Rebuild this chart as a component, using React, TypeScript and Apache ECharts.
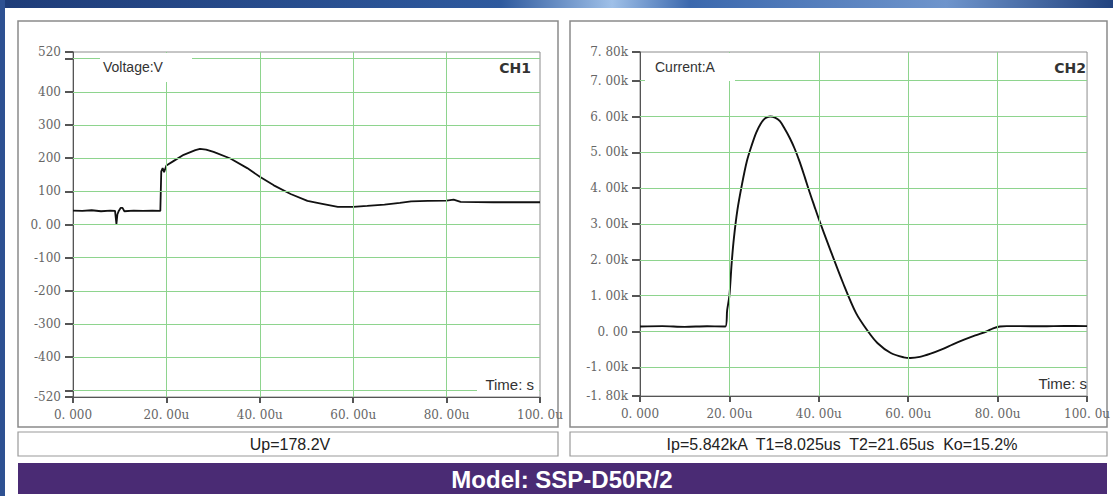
import React, { useEffect, useRef } from "react";
import * as echarts from "echarts";

// ---------- axis ticks / labels ----------
const timeTicks = [0, 20, 40, 60, 80, 100];
const timeTickLabels = ["0. 000", "20. 00u", "40. 00u", "60. 00u", "80. 00u", "100. 0u"];
const gridTimes = [20, 40, 60, 80];

const voltTicks = [-520, -400, -300, -200, -100, 0, 100, 200, 300, 400, 520];
const voltTickLabels = ["-520", "-400", "-300", "-200", "-100", "0. 00", "100", "200", "300", "400", "520"];
const voltTickMarks = [-520, -500, -400, -300, -200, -100, 0, 100, 200, 300, 400, 500, 520];
const voltGrid = [-500, -400, -300, -200, -100, 0, 100, 200, 300, 400, 500];

const currTicks = [-1800, -1000, 0, 1000, 2000, 3000, 4000, 5000, 6000, 7000, 7800];
const currTickLabels = ["-1. 80k", "-1. 00k", "0. 00", "1. 00k", "2. 00k", "3. 00k", "4. 00k", "5. 00k", "6. 00k", "7. 00k", "7. 80k"];
const currGrid = [-1000, 0, 1000, 2000, 3000, 4000, 5000, 6000, 7000];

// ---------- CH1 voltage (time in us, volts) ----------
const voltageTime = [0, 2, 4, 6, 8, 9.0, 9.3, 9.5, 9.8, 10.2, 10.6, 11, 13, 15, 17, 18.7, 18.9, 19.2, 19.5, 20, 21.5, 23.7, 26.2, 27.2, 28.5, 30.1, 33.7, 37.3, 40, 43, 46.6, 50.2, 53.1, 56.7, 60, 63, 66.7, 70, 72.4, 76, 80, 81.5, 83, 90, 100];
const voltageValues = [42, 41, 43, 40, 42, 41, 2, 30, 41, 50, 50, 40, 42, 41, 42, 41, 160, 170, 158, 178, 191, 210, 224, 228, 226, 219, 199, 170, 144, 118, 92, 71, 63, 53, 53, 56, 60, 65, 70, 71, 72, 75, 68, 67, 67];

// ---------- CH2 current (time in us, amperes) ----------
const currentTime = [0, 5, 10, 15, 19.1, 19.5, 20, 20.5, 21.0, 21.8, 22.8, 23.9, 25.0, 26.0, 27.0, 28.0, 29.1, 30.2, 31.3, 32.4, 33.5, 34.6, 35.7, 36.8, 37.9, 39.0, 40, 42.5, 45.4, 48.3, 50.9, 53.1, 56.1, 59, 60.5, 62.6, 65, 67.5, 70, 72.5, 75, 77.5, 79, 80.5, 82, 85, 90, 95, 100];
const currentValues = [140, 150, 130, 145, 140, 600, 1000, 1900, 2600, 3400, 4100, 4750, 5200, 5550, 5800, 5950, 6000, 5970, 5870, 5650, 5400, 5100, 4740, 4330, 3900, 3500, 3140, 2300, 1360, 520, 20, -320, -600, -720, -740, -710, -620, -500, -360, -230, -110, 0, 90, 140, 150, 150, 145, 155, 150];

// ---------- texts ----------
const ch1Name = "CH1";
const ch2Name = "CH2";
const ch1Quantity = "Voltage:V";
const ch2Quantity = "Current:A";
const timeUnit = "Time: s";
const ch1Result = "Up=178.2V";
const ch2Result = "Ip=5.842kA  T1=8.025us  T2=21.65us  Ko=15.2%";
const modelText = "Model: SSP-D50R/2";

const labelFont = "DejaVu Serif";
const gridGreen = "#8ed48e";
const axisGray = "#555";

function lookup(values: number[], labels: string[]) {
  return (v: number) => {
    const i = values.findIndex((x) => Math.abs(x - v) < 1e-6);
    return i >= 0 ? labels[i] : "";
  };
}

function xAxisCfg(gridIndex: number) {
  return {
    type: "value",
    gridIndex,
    min: 0,
    max: 100,
    axisLine: { show: true, onZero: false, lineStyle: { color: axisGray } },
    axisTick: { show: true, customValues: timeTicks, length: 6, lineStyle: { color: "#555", width: 2 } },
    axisLabel: {
      customValues: timeTicks,
      formatter: lookup(timeTicks, timeTickLabels),
      color: "#666",
      fontFamily: labelFont,
      fontSize: 12,
      margin: 12,
    },
    splitLine: { show: false },
  };
}

function yAxisCfg(gridIndex: number, min: number, max: number, ticks: number[], labels: string[], marks: number[]) {
  return {
    type: "value",
    gridIndex,
    min,
    max,
    axisLine: { show: true, onZero: false, lineStyle: { color: axisGray } },
    axisTick: { show: true, customValues: marks, length: 8, lineStyle: { color: "#555", width: 2 } },
    axisLabel: {
      customValues: ticks,
      formatter: lookup(ticks, labels),
      color: "#666",
      fontFamily: labelFont,
      fontSize: 12,
      margin: 12,
    },
    splitLine: { show: false },
  };
}

function gridSeries(idx: number, hValues: number[]) {
  return {
    type: "line",
    xAxisIndex: idx,
    yAxisIndex: idx,
    data: [],
    z: 1,
    silent: true,
    markLine: {
      silent: true,
      symbol: ["none", "none"],
      label: { show: false },
      lineStyle: { color: gridGreen, width: 1, type: "solid" },
      emphasis: { disabled: true },
      data: [
        ...hValues.map((v) => ({ yAxis: v })),
        ...gridTimes.map((t) => ({ xAxis: t })),
      ],
    },
  };
}

function text(x: number, y: number, t: string, font: string, fill: string, align: string, z = 60) {
  return {
    type: "text",
    x,
    y,
    z,
    silent: true,
    style: {
      text: t,
      font,
      fill,
      align,
      verticalAlign: "middle",
      textAlign: align,
      textVerticalAlign: "middle",
    },
  };
}

function rect(x: number, y: number, w: number, h: number, style: any, z: number) {
  return { type: "rect", shape: { x, y, width: w, height: h }, style, z, silent: true };
}

export default function App() {
  const ref = useRef<HTMLDivElement>(null);

  useEffect(() => {
    if (!ref.current) return;
    const chart = echarts.init(ref.current, null, { renderer: "svg" });

    const panelStyle = { fill: "none", stroke: "#8a8a8a", lineWidth: 1.5 };
    const boxStyle = { fill: "none", stroke: "#9a9a9a", lineWidth: 1.2 };
    const white = { fill: "#ffffff" };

    const option: any = {
      animation: false,
      grid: [
        { left: 73, top: 52, width: 467, height: 345, show: true, borderColor: "#8c8c8c" },
        { left: 640, top: 52, width: 451, height: 344, show: true, borderColor: "#8c8c8c" },
      ],
      xAxis: [xAxisCfg(0), xAxisCfg(1)],
      yAxis: [
        yAxisCfg(0, -520, 520, voltTicks, voltTickLabels, voltTickMarks),
        yAxisCfg(1, -1800, 7800, currTicks, currTickLabels, currTicks),
      ],
      series: [
        gridSeries(0, voltGrid),
        gridSeries(1, currGrid),
        {
          type: "line",
          name: ch1Name,
          xAxisIndex: 0,
          yAxisIndex: 0,
          data: voltageTime.map((t, i) => [t, voltageValues[i]]),
          showSymbol: false,
          symbol: "none",
          z: 3,
          lineStyle: { color: "#111", width: 1.8 },
        },
        {
          type: "line",
          name: ch2Name,
          xAxisIndex: 1,
          yAxisIndex: 1,
          data: currentTime.map((t, i) => [t, currentValues[i]]),
          showSymbol: false,
          symbol: "none",
          smooth: 0.3,
          z: 3,
          lineStyle: { color: "#111", width: 1.9 },
        },
      ],
      graphic: [
        // frame
        {
          type: "rect",
          shape: { x: 0, y: 0, width: 1113, height: 8 },
          silent: true,
          style: {
            fill: new echarts.graphic.LinearGradient(0, 0, 1, 0, [
              { offset: 0, color: "#1e3c78" },
              { offset: 0.45, color: "#2f5a9e" },
              { offset: 0.55, color: "#9fc0e8" },
              { offset: 0.62, color: "#3b68ad" },
              { offset: 0.85, color: "#6f95cc" },
              { offset: 1, color: "#22437f" },
            ]),
          },
        },
        rect(0, 0, 5, 496, { fill: "#2e5192" }, 0),
        // panels (outlines only)
        rect(18, 21, 540, 406, panelStyle, 0),
        rect(570, 21, 537, 406, panelStyle, 0),
        rect(18, 432, 540, 24, boxStyle, 0),
        rect(570, 432, 537, 24, boxStyle, 0),
        rect(18, 463, 1089, 31, { fill: "#4a2b74" }, 0),
        // label cover boxes
        rect(100, 53, 92, 29, white, 50),
        rect(645, 53, 90, 28, white, 50),
        rect(477, 373, 62, 23, white, 50),
        // texts inside plots
        text(103, 67, ch1Quantity, "14px Arial, 'Liberation Sans', sans-serif", "#333", "left"),
        text(655, 67, ch2Quantity, "14px Arial, 'Liberation Sans', sans-serif", "#333", "left"),
        text(531, 68, ch1Name, "bold 14px 'DejaVu Sans', sans-serif", "#333", "right"),
        text(1086, 68, ch2Name, "bold 14px 'DejaVu Sans', sans-serif", "#333", "right"),
        text(534, 384, timeUnit, "15px Arial, 'Liberation Sans', sans-serif", "#333", "right"),
        text(1087, 383, timeUnit, "15px Arial, 'Liberation Sans', sans-serif", "#333", "right"),
        // results
        text(290, 444, ch1Result, "16px Arial, 'Liberation Sans', sans-serif", "#222", "center"),
        text(842, 444, ch2Result, "16px Arial, 'Liberation Sans', sans-serif", "#222", "center"),
        // model banner
        text(562, 479, modelText, "bold 24px Arial, 'Liberation Sans', sans-serif", "#ffffff", "center"),
      ],
    };

    chart.setOption(option);
    return () => {
      chart.dispose();
    };
  }, []);

  return (
    <div
      ref={ref}
      style={{ position: "absolute", left: 0, top: 0, width: 1113, height: 496, background: "#ffffff" }}
    />
  );
}
